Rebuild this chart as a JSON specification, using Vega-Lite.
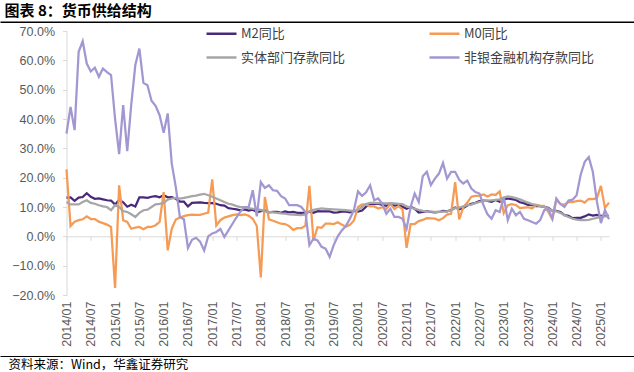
{
  "$schema": "https://vega.github.io/schema/vega-lite/v6.json",
  "width": 542.5,
  "height": 264,
  "autosize": {"type": "none"},
  "padding": {"left": 66.5, "top": 31, "right": 25, "bottom": 77},
  "background": "white",
  "config": {"view": {"stroke": null}, "font": "Noto Sans CJK SC"},
  "resolve": {"scale": {"x": "independent"}, "axis": {"x": "independent"}},
  "layer": [
    {
      "data": {"values": [
        {"d":"2014/01","m2":13.2,"m0":22.8,"dep":11.7,"nb":35.0},
        {"d":"2014/02","m2":13.3,"m0":3.5,"dep":10.9,"nb":44.1},
        {"d":"2014/03","m2":12.1,"m0":5.0,"dep":10.9,"nb":36.2},
        {"d":"2014/04","m2":13.2,"m0":5.5,"dep":10.9,"nb":62.9},
        {"d":"2014/05","m2":13.4,"m0":5.8,"dep":11.7,"nb":66.5},
        {"d":"2014/06","m2":14.7,"m0":6.8,"dep":12.3,"nb":58.9},
        {"d":"2014/07","m2":13.5,"m0":5.9,"dep":11.4,"nb":56.2},
        {"d":"2014/08","m2":12.8,"m0":5.9,"dep":11.1,"nb":57.5},
        {"d":"2014/09","m2":12.9,"m0":5.0,"dep":10.6,"nb":54.4},
        {"d":"2014/10","m2":12.6,"m0":4.5,"dep":10.2,"nb":57.2},
        {"d":"2014/11","m2":12.3,"m0":4.0,"dep":10.0,"nb":56.0},
        {"d":"2014/12","m2":12.2,"m0":3.2,"dep":8.9,"nb":55.0},
        {"d":"2015/01","m2":10.8,"m0":-17.6,"dep":10.6,"nb":40.0},
        {"d":"2015/02","m2":12.5,"m0":17.4,"dep":10.0,"nb":28.0},
        {"d":"2015/03","m2":11.6,"m0":5.5,"dep":8.6,"nb":44.7},
        {"d":"2015/04","m2":10.1,"m0":4.9,"dep":8.3,"nb":29.0},
        {"d":"2015/05","m2":10.8,"m0":2.6,"dep":7.5,"nb":45.0},
        {"d":"2015/06","m2":10.2,"m0":3.0,"dep":6.6,"nb":58.4},
        {"d":"2015/07","m2":13.3,"m0":3.2,"dep":8.0,"nb":64.0},
        {"d":"2015/08","m2":13.3,"m0":2.4,"dep":8.9,"nb":52.3},
        {"d":"2015/09","m2":13.1,"m0":3.2,"dep":9.1,"nb":51.5},
        {"d":"2015/10","m2":13.5,"m0":3.2,"dep":10.0,"nb":46.2},
        {"d":"2015/11","m2":13.7,"m0":3.8,"dep":10.9,"nb":44.5},
        {"d":"2015/12","m2":13.3,"m0":4.9,"dep":11.1,"nb":41.3},
        {"d":"2016/01","m2":14.0,"m0":15.1,"dep":11.4,"nb":35.3},
        {"d":"2016/02","m2":13.3,"m0":-4.8,"dep":12.5,"nb":41.9},
        {"d":"2016/03","m2":13.4,"m0":2.6,"dep":12.9,"nb":24.8},
        {"d":"2016/04","m2":12.8,"m0":5.7,"dep":13.1,"nb":16.8},
        {"d":"2016/05","m2":11.8,"m0":6.4,"dep":12.9,"nb":6.6},
        {"d":"2016/06","m2":11.8,"m0":6.9,"dep":13.1,"nb":5.8},
        {"d":"2016/07","m2":10.2,"m0":7.2,"dep":13.4,"nb":-4.0},
        {"d":"2016/08","m2":11.4,"m0":7.4,"dep":13.7,"nb":-1.2},
        {"d":"2016/09","m2":11.5,"m0":7.3,"dep":13.9,"nb":-0.5},
        {"d":"2016/10","m2":11.6,"m0":7.3,"dep":14.2,"nb":-1.8},
        {"d":"2016/11","m2":11.4,"m0":7.7,"dep":14.5,"nb":-4.8},
        {"d":"2016/12","m2":11.3,"m0":8.1,"dep":14.0,"nb":0.0},
        {"d":"2017/01","m2":11.3,"m0":19.4,"dep":13.5,"nb":1.0},
        {"d":"2017/02","m2":11.1,"m0":3.7,"dep":12.9,"nb":1.5},
        {"d":"2017/03","m2":10.6,"m0":5.5,"dep":12.3,"nb":2.5},
        {"d":"2017/04","m2":10.5,"m0":6.4,"dep":11.7,"nb":-0.2},
        {"d":"2017/05","m2":9.6,"m0":6.8,"dep":11.1,"nb":2.0},
        {"d":"2017/06","m2":9.4,"m0":7.2,"dep":10.8,"nb":4.3},
        {"d":"2017/07","m2":9.2,"m0":7.5,"dep":10.3,"nb":6.5},
        {"d":"2017/08","m2":8.9,"m0":7.2,"dep":10.0,"nb":8.5},
        {"d":"2017/09","m2":9.2,"m0":7.5,"dep":10.0,"nb":10.0},
        {"d":"2017/10","m2":8.8,"m0":7.0,"dep":9.6,"nb":10.0},
        {"d":"2017/11","m2":9.1,"m0":6.0,"dep":9.4,"nb":15.7},
        {"d":"2017/12","m2":8.2,"m0":3.6,"dep":9.2,"nb":6.8},
        {"d":"2018/01","m2":8.6,"m0":-14.0,"dep":9.0,"nb":18.5},
        {"d":"2018/02","m2":8.8,"m0":13.4,"dep":8.5,"nb":16.5},
        {"d":"2018/03","m2":8.2,"m0":5.8,"dep":8.3,"nb":17.4},
        {"d":"2018/04","m2":8.3,"m0":5.3,"dep":8.2,"nb":15.7},
        {"d":"2018/05","m2":8.3,"m0":4.8,"dep":8.0,"nb":15.5},
        {"d":"2018/06","m2":8.0,"m0":4.3,"dep":7.8,"nb":13.7},
        {"d":"2018/07","m2":8.5,"m0":4.2,"dep":7.7,"nb":12.9},
        {"d":"2018/08","m2":8.2,"m0":3.5,"dep":7.5,"nb":10.6},
        {"d":"2018/09","m2":8.3,"m0":2.2,"dep":7.4,"nb":10.6},
        {"d":"2018/10","m2":8.0,"m0":2.8,"dep":7.3,"nb":10.6},
        {"d":"2018/11","m2":8.0,"m0":2.8,"dep":7.2,"nb":10.0},
        {"d":"2018/12","m2":8.1,"m0":3.6,"dep":7.5,"nb":8.3},
        {"d":"2019/01","m2":8.4,"m0":17.2,"dep":8.5,"nb":-3.0},
        {"d":"2019/02","m2":8.0,"m0":-1.5,"dep":9.0,"nb":-0.8},
        {"d":"2019/03","m2":8.6,"m0":3.1,"dep":9.3,"nb":-1.4},
        {"d":"2019/04","m2":8.5,"m0":2.9,"dep":9.5,"nb":-3.6},
        {"d":"2019/05","m2":8.5,"m0":4.3,"dep":9.4,"nb":-4.2},
        {"d":"2019/06","m2":8.5,"m0":4.3,"dep":9.3,"nb":-7.0},
        {"d":"2019/07","m2":8.1,"m0":4.2,"dep":9.2,"nb":-3.0},
        {"d":"2019/08","m2":8.2,"m0":4.8,"dep":9.1,"nb":0.0},
        {"d":"2019/09","m2":8.4,"m0":4.0,"dep":9.0,"nb":2.0},
        {"d":"2019/10","m2":8.4,"m0":3.3,"dep":8.9,"nb":3.5},
        {"d":"2019/11","m2":8.2,"m0":3.9,"dep":8.8,"nb":6.0},
        {"d":"2019/12","m2":8.7,"m0":5.4,"dep":8.7,"nb":9.0},
        {"d":"2020/01","m2":8.4,"m0":10.0,"dep":9.0,"nb":15.3},
        {"d":"2020/02","m2":8.8,"m0":10.9,"dep":10.0,"nb":13.8},
        {"d":"2020/03","m2":10.1,"m0":10.8,"dep":11.0,"nb":15.0},
        {"d":"2020/04","m2":11.1,"m0":10.2,"dep":11.4,"nb":17.4},
        {"d":"2020/05","m2":11.1,"m0":10.2,"dep":11.4,"nb":12.3},
        {"d":"2020/06","m2":11.1,"m0":9.5,"dep":11.3,"nb":12.9},
        {"d":"2020/07","m2":10.7,"m0":9.9,"dep":11.3,"nb":11.1},
        {"d":"2020/08","m2":10.4,"m0":9.3,"dep":11.2,"nb":7.7},
        {"d":"2020/09","m2":10.9,"m0":11.1,"dep":11.3,"nb":9.4},
        {"d":"2020/10","m2":10.5,"m0":9.3,"dep":11.2,"nb":6.6},
        {"d":"2020/11","m2":10.7,"m0":10.3,"dep":11.1,"nb":6.6},
        {"d":"2020/12","m2":10.1,"m0":9.2,"dep":11.0,"nb":6.0},
        {"d":"2021/01","m2":9.4,"m0":-3.9,"dep":10.2,"nb":2.6},
        {"d":"2021/02","m2":10.1,"m0":4.2,"dep":9.8,"nb":10.0},
        {"d":"2021/03","m2":9.4,"m0":4.2,"dep":9.4,"nb":14.6},
        {"d":"2021/04","m2":8.1,"m0":5.2,"dep":9.0,"nb":11.7},
        {"d":"2021/05","m2":8.3,"m0":5.6,"dep":8.7,"nb":20.5},
        {"d":"2021/06","m2":8.6,"m0":6.2,"dep":8.5,"nb":22.0},
        {"d":"2021/07","m2":8.3,"m0":6.1,"dep":8.4,"nb":17.5},
        {"d":"2021/08","m2":8.2,"m0":6.0,"dep":8.3,"nb":19.7},
        {"d":"2021/09","m2":8.3,"m0":5.5,"dep":8.3,"nb":21.4},
        {"d":"2021/10","m2":8.7,"m0":6.2,"dep":8.4,"nb":25.0},
        {"d":"2021/11","m2":8.5,"m0":7.4,"dep":8.5,"nb":19.7},
        {"d":"2021/12","m2":9.0,"m0":7.7,"dep":8.9,"nb":22.0},
        {"d":"2022/01","m2":9.8,"m0":18.5,"dep":9.6,"nb":22.0},
        {"d":"2022/02","m2":9.2,"m0":5.8,"dep":9.8,"nb":19.3},
        {"d":"2022/03","m2":9.7,"m0":9.9,"dep":10.2,"nb":18.0},
        {"d":"2022/04","m2":10.5,"m0":11.5,"dep":10.6,"nb":19.0},
        {"d":"2022/05","m2":11.1,"m0":13.5,"dep":10.8,"nb":16.3},
        {"d":"2022/06","m2":11.4,"m0":13.8,"dep":11.3,"nb":15.1},
        {"d":"2022/07","m2":12.0,"m0":13.9,"dep":11.7,"nb":14.6},
        {"d":"2022/08","m2":12.2,"m0":14.3,"dep":12.0,"nb":10.6},
        {"d":"2022/09","m2":12.1,"m0":13.6,"dep":12.2,"nb":7.5},
        {"d":"2022/10","m2":11.8,"m0":14.3,"dep":12.3,"nb":6.0},
        {"d":"2022/11","m2":12.4,"m0":14.1,"dep":12.4,"nb":8.9},
        {"d":"2022/12","m2":11.8,"m0":15.3,"dep":12.6,"nb":8.3},
        {"d":"2023/01","m2":12.6,"m0":7.9,"dep":13.2,"nb":13.4},
        {"d":"2023/02","m2":12.9,"m0":10.6,"dep":13.6,"nb":5.5},
        {"d":"2023/03","m2":12.7,"m0":11.0,"dep":13.4,"nb":9.4},
        {"d":"2023/04","m2":12.4,"m0":10.7,"dep":13.0,"nb":7.2},
        {"d":"2023/05","m2":11.6,"m0":9.6,"dep":12.6,"nb":8.3},
        {"d":"2023/06","m2":11.3,"m0":9.8,"dep":12.0,"nb":6.0},
        {"d":"2023/07","m2":10.7,"m0":9.9,"dep":11.5,"nb":5.5},
        {"d":"2023/08","m2":10.6,"m0":9.5,"dep":11.0,"nb":4.9},
        {"d":"2023/09","m2":10.3,"m0":10.7,"dep":10.7,"nb":4.3},
        {"d":"2023/10","m2":10.3,"m0":10.4,"dep":10.3,"nb":5.5},
        {"d":"2023/11","m2":10.0,"m0":10.4,"dep":10.0,"nb":8.9},
        {"d":"2023/12","m2":9.7,"m0":8.3,"dep":9.5,"nb":9.4},
        {"d":"2024/01","m2":8.7,"m0":5.9,"dep":8.7,"nb":6.0},
        {"d":"2024/02","m2":8.7,"m0":12.5,"dep":8.5,"nb":12.9},
        {"d":"2024/03","m2":8.3,"m0":11.0,"dep":8.0,"nb":11.0},
        {"d":"2024/04","m2":7.2,"m0":10.8,"dep":7.2,"nb":10.0},
        {"d":"2024/05","m2":7.0,"m0":11.7,"dep":6.6,"nb":12.2},
        {"d":"2024/06","m2":6.2,"m0":11.7,"dep":6.0,"nb":12.5},
        {"d":"2024/07","m2":6.3,"m0":12.0,"dep":5.7,"nb":14.0},
        {"d":"2024/08","m2":6.3,"m0":12.2,"dep":5.5,"nb":21.0},
        {"d":"2024/09","m2":6.8,"m0":11.5,"dep":5.5,"nb":25.4},
        {"d":"2024/10","m2":7.5,"m0":12.8,"dep":5.6,"nb":27.0},
        {"d":"2024/11","m2":7.1,"m0":12.7,"dep":6.0,"nb":22.0},
        {"d":"2024/12","m2":7.3,"m0":13.0,"dep":6.3,"nb":12.0},
        {"d":"2025/01","m2":7.0,"m0":17.2,"dep":6.6,"nb":4.5},
        {"d":"2025/02","m2":7.0,"m0":9.7,"dep":6.8,"nb":9.0},
        {"d":"2025/03","m2":7.0,"m0":11.5,"dep":6.8,"nb":5.8}
      ]},
      "transform": [{"fold": ["m2", "m0", "dep", "nb"], "as": ["s", "v"]}],
      "mark": {"type": "line", "strokeWidth": 2.25},
      "encoding": {
        "x": {
          "field": "d", "type": "ordinal", "sort": null,
          "scale": {"type": "point", "padding": 0},
          "axis": {
            "orient": "bottom", "offset": -58.7,
            "values": ["2014/01","2014/07","2015/01","2015/07","2016/01","2016/07","2017/01","2017/07","2018/01","2018/07","2019/01","2019/07","2020/01","2020/07","2021/01","2021/07","2022/01","2022/07","2023/01","2023/07","2024/01","2024/07","2025/01"],
            "labelAngle": 270, "labelPadding": 60.7, "tickSize": 4,
            "tickColor": "#D9D9D9", "domainColor": "#D9D9D9", "domainWidth": 1,
            "labelFont": "Liberation Sans", "labelFontSize": 12.5, "labelColor": "#595959",
            "grid": false, "title": null
          }
        },
        "y": {
          "field": "v", "type": "quantitative",
          "scale": {"domain": [-20, 70], "nice": false, "zero": false},
          "axis": {
            "values": [-20, -10, 0, 10, 20, 30, 40, 50, 60, 70],
            "labelExpr": "format(datum.value, '.1f') + '%'",
            "domainColor": "#D9D9D9", "tickColor": "#D9D9D9", "tickSize": 4,
            "labelPadding": 8, "grid": false, "title": null,
            "labelFont": "Liberation Sans", "labelFontSize": 12.5, "labelColor": "#595959"
          }
        },
        "color": {
          "field": "s", "type": "nominal",
          "scale": {"domain": ["m2", "m0", "dep", "nb"], "range": ["#48297C", "#F59B55", "#A6A6A6", "#A397D1"]},
          "legend": {
            "orient": "none", "legendX": 138.5, "legendY": -14, "columns": 2, "direction": "horizontal",
            "title": null, "symbolType": "stroke", "symbolSize": 900, "symbolStrokeWidth": 2.5,
            "labelFont": "Noto Sans CJK SC", "labelFontSize": 13, "labelColor": "#404040",
            "labelOffset": 3, "columnPadding": 78, "rowPadding": -5, "padding": 0,
            "labelExpr": "{'m2': 'M2同比', 'm0': 'M0同比', 'dep': '实体部门存款同比', 'nb': '非银金融机构存款同比'}[datum.label]"
          }
        }
      }
    },
    {
      "data": {"values": [{}]},
      "mark": {"type": "rule", "opacity": 0},
      "encoding": {
        "x": {
          "datum": 0, "type": "quantitative",
          "scale": {"domain": [0, 1], "range": [-66.5, 567.5]},
          "axis": {
            "orient": "bottom", "offset": 61, "domainColor": "#000000", "domainWidth": 1.2,
            "ticks": false, "labels": false, "grid": false,
            "title": "资料来源：Wind，华鑫证券研究",
            "titleX": -58.5, "titleY": 8, "titleAlign": "left", "titleBaseline": "middle",
            "titleFont": "Noto Sans CJK SC", "titleFontSize": 12.5, "titleFontWeight": "normal", "titleColor": "#000000"
          }
        }
      }
    },
    {
      "data": {"values": [{}]},
      "mark": {"type": "rule", "opacity": 0},
      "encoding": {
        "x": {
          "datum": 0, "type": "quantitative",
          "scale": {"domain": [0, 1], "range": [-66.5, 567.5]},
          "axis": {
            "orient": "top", "offset": 9.3, "domainColor": "#000000", "domainWidth": 1.5,
            "ticks": false, "labels": false, "grid": false,
            "title": "图表 8：货币供给结构",
            "titleX": -62.5, "titleY": -11.2, "titleAlign": "left", "titleBaseline": "middle",
            "titleFont": "Noto Sans CJK SC", "titleFontSize": 15, "titleFontWeight": "bold", "titleColor": "#000000"
          }
        }
      }
    }
  ]
}
